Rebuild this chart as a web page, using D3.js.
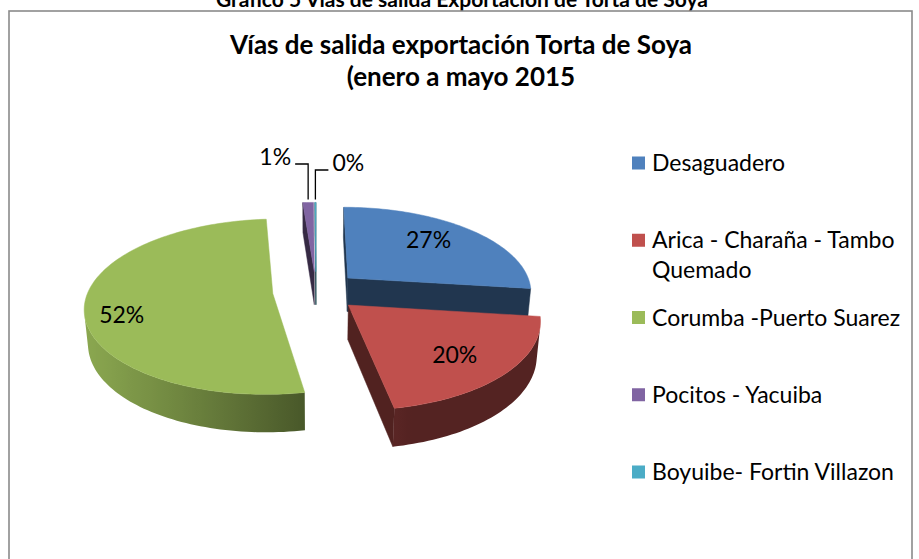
<!DOCTYPE html>
<html>
<head>
<meta charset="utf-8">
<script src="https://cdn.jsdelivr.net/npm/d3@7"></script>
<style>
  body { margin: 0; background: #fff; }
  svg { display: block; font-family: Lato, "Open Sans", sans-serif; }
</style>
</head>
<body>
<svg id="chart" width="919" height="559"></svg>
<script>
// values
var rutas = ["Desaguadero", "Arica - Charaña - Tambo Quemado", "Corumba -Puerto Suarez", "Pocitos - Yacuiba", "Boyuibe- Fortin Villazon"];
var shares = [27.0, 20.1, 51.7, 1.1, 0.1];
var colors = ["#4F81BD", "#C0504D", "#9BBB59", "#8064A2", "#4BACC6"];
var titleLines = ["Vías de salida exportación Torta de Soya", "(enero a mayo 2015"];
var pageTitle = "Gráfico 5 Vías de salida Exportación de Torta de Soya";

var svg = d3.select("#chart");
var defs = svg.append("defs");

// page caption, cut off by the top of the picture as in the reference
svg.append("text")
    .attr("x", 462).attr("y", 7)
    .attr("text-anchor", "middle")
    .attr("font-weight", "bold")
    .attr("font-size", 21)
    .text(pageTitle);

// chart frame
svg.append("rect")
    .attr("x", 9).attr("y", 11)
    .attr("width", 903).attr("height", 600)
    .attr("fill", "#fff")
    .attr("stroke", "#8a8a8a")
    .attr("stroke-width", 1.6);

svg.append("g").selectAll("text")
    .data(titleLines)
    .enter().append("text")
    .attr("x", 461)
    .attr("y", (d, i) => 54 + i * 32)
    .attr("text-anchor", "middle")
    .attr("font-weight", "bold")
    .attr("font-size", 26)
    .text(d => d);

// --- 3D pie: disc of radius 1 seen from above and in front, with perspective
var cam = { cx: 316, cy: 291, f: 1100, dist: 5.96, tilt: 27.4 * Math.PI / 180 };
var thick = 0.21, explode = 0.235;
var sinT = Math.sin(cam.tilt), cosT = Math.cos(cam.tilt);

function project(x, y, z) { // x right, y up, z toward viewer
    var py = y * cosT - z * sinT;
    var dep = cam.dist - (y * sinT + z * cosT);
    return [cam.cx + cam.f * x / dep, cam.cy - cam.f * py / dep];
}

function shade(col, k) {
    var c = d3.rgb(col);
    return d3.rgb(c.r * k, c.g * k, c.b * k).formatHex();
}

function signedArea(p) {
    var s = 0;
    for (var i = 0; i < p.length; i++) {
        var a = p[i], b = p[(i + 1) % p.length];
        s += a[0] * b[1] - b[0] * a[1];
    }
    return s / 2;
}

var arcs = d3.pie().sort(null).value(d => d)(shares);
var total = d3.sum(shares);

arcs.forEach(function(d) {
    d.mid = (d.startAngle + d.endAngle) / 2;
    d.ox = explode * Math.sin(d.mid);
    d.oz = -explode * Math.cos(d.mid);
    var pts = [[d.ox, d.oz]];
    var n = Math.max(2, Math.ceil((d.endAngle - d.startAngle) / 0.025));
    for (var i = 0; i <= n; i++) {
        var a = d.startAngle + (d.endAngle - d.startAngle) * i / n;
        pts.push([d.ox + Math.sin(a), d.oz - Math.cos(a)]);
    }
    d.outline = pts;
});

var line = d3.line();
var light = [-0.8, 0.2];
var pieG = svg.append("g");

function wallQuad(P, Q) {
    return [project(P[0], 0, P[1]), project(Q[0], 0, Q[1]),
            project(Q[0], -thick, Q[1]), project(P[0], -thick, P[1])];
}

// back slices first
arcs.slice().sort((a, b) => a.oz - b.oz).forEach(function(d) {
    var col = colors[d.index];
    var pts = d.outline, m = pts.length;
    var g = pieG.append("g");

    // cut faces on both sides of the slice
    [[pts[0], pts[1]], [pts[m - 1], pts[0]]].forEach(function(e) {
        var quad = wallQuad(e[0], e[1]);
        if (signedArea(quad) >= 0) return;
        g.append("path")
            .attr("d", line(quad) + "Z")
            .attr("fill", shade(col, 0.42))
            .attr("stroke", shade(col, 0.42))
            .attr("stroke-width", 0.5);
    });

    // curved outer wall: the part that faces the viewer, one path with a gradient
    var top = [], bot = [], stops = [];
    for (var i = 1; i < m - 1; i++) {
        var P = pts[i], Q = pts[i + 1];
        var quad = wallQuad(P, Q);
        if (signedArea(quad) >= 0) continue;
        var dx = Q[0] - P[0], dz = Q[1] - P[1], len = Math.hypot(dx, dz);
        var k = 0.44 + 0.55 * Math.max(0, (dz / len) * light[0] + (-dx / len) * light[1]);
        if (!top.length) { top.push(quad[0]); bot.push(quad[3]); }
        top.push(quad[1]); bot.push(quad[2]);
        stops.push({ x: (quad[0][0] + quad[1][0]) / 2, c: shade(col, k) });
    }
    if (top.length) {
        var x0 = d3.min(stops, s => s.x), x1 = d3.max(stops, s => s.x);
        var gid = "wall" + d.index;
        var grad = defs.append("linearGradient")
            .attr("id", gid)
            .attr("gradientUnits", "userSpaceOnUse")
            .attr("x1", x0).attr("x2", x1 + 0.01).attr("y1", 0).attr("y2", 0);
        stops.sort((a, b) => a.x - b.x).forEach(function(s) {
            grad.append("stop")
                .attr("offset", (s.x - x0) / (x1 - x0 + 0.01))
                .attr("stop-color", s.c);
        });
        g.append("path")
            .attr("d", line(top.concat(bot.reverse())) + "Z")
            .attr("fill", "url(#" + gid + ")");
    }

    g.append("path")
        .attr("d", line(pts.map(p => project(p[0], 0, p[1]))) + "Z")
        .attr("fill", col)
        .attr("stroke", col)
        .attr("stroke-width", 0.5);
});

// data labels
var pct = d => Math.round(d.value / total * 100) + "%";
var labelNudge = [[-6, -3], [0, 4], [-20, 14]];
var labelG = svg.append("g").attr("font-size", 23).attr("fill", "#000");

arcs.filter(d => d.value >= 5).forEach(function(d) {
    var p = project(d.ox + 0.7 * Math.sin(d.mid), 0, d.oz - 0.7 * Math.cos(d.mid));
    labelG.append("text")
        .attr("x", p[0] + labelNudge[d.index][0])
        .attr("y", p[1] + labelNudge[d.index][1])
        .attr("dy", "0.35em")
        .attr("text-anchor", "middle")
        .text(pct(d));
});

// small slices get leader lines
arcs.filter(d => d.value < 5).forEach(function(d, j) {
    var p = project(d.ox + Math.sin(d.mid), 0, d.oz - Math.cos(d.mid));
    var side = j == 0 ? -1 : 1;
    var ly = j == 0 ? 164 : 170;
    labelG.append("path")
        .attr("d", "M" + p[0] + "," + (p[1] - 3) + "V" + ly + "H" + (p[0] + side * 13))
        .attr("fill", "none")
        .attr("stroke", "#000")
        .attr("stroke-width", 1.3);
    labelG.append("text")
        .attr("x", p[0] + side * 17)
        .attr("y", ly - 7)
        .attr("dy", "0.35em")
        .attr("text-anchor", side < 0 ? "end" : "start")
        .text(pct(d));
});

// legend
var ly = d3.scaleLinear().domain([0, rutas.length - 1]).range([163, 472]);
var legend = svg.append("g").attr("font-size", 23);
rutas.forEach(function(name, i) {
    legend.append("rect")
        .attr("x", 632).attr("y", ly(i) - 6.5)
        .attr("width", 13).attr("height", 13)
        .attr("fill", colors[i]);
    var t = legend.append("text").attr("x", 652).attr("y", ly(i)).attr("dy", "0.35em");
    // wrap long names like the reference does
    var words = name.split(" "), cur = [];
    var ts = t.append("tspan").attr("x", 652);
    words.forEach(function(w) {
        cur.push(w);
        ts.text(cur.join(" "));
        if (ts.node().getComputedTextLength() > 258 && cur.length > 1) {
            cur.pop();
            ts.text(cur.join(" "));
            cur = [w];
            ts = t.append("tspan").attr("x", 652).attr("dy", "1.3em").text(w);
        }
    });
});
</script>
</body>
</html>
